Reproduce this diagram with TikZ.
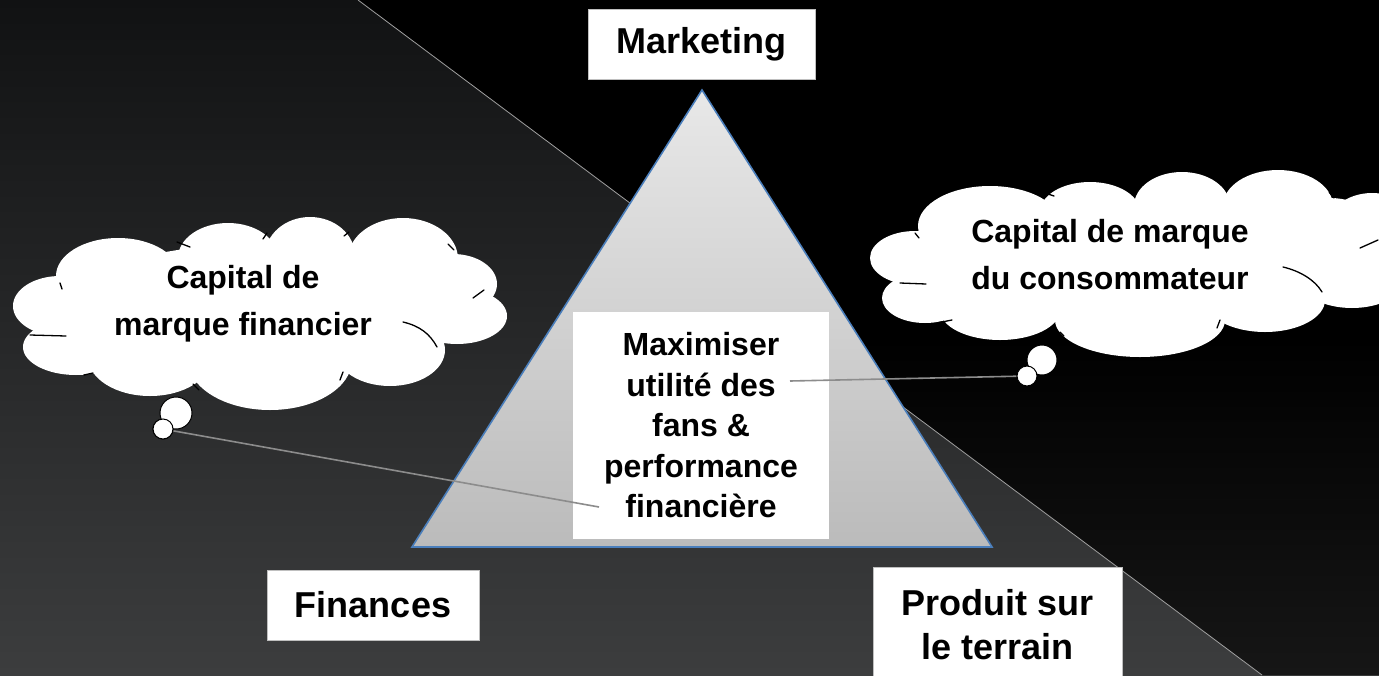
\documentclass[tikz,border=0pt]{standalone}
\usepackage{fontspec}
\setmainfont{Liberation Sans}
\definecolor{bgtop}{HTML}{111213}
\definecolor{bgbot}{HTML}{3C3D3E}
\definecolor{rbot}{HTML}{2C2C2C}
\definecolor{trtop}{HTML}{E8E8E8}
\definecolor{trbot}{HTML}{BBBBBB}
\definecolor{trline}{HTML}{4A7EBB}
\definecolor{connc}{HTML}{8C8C8C}
\definecolor{boxline}{HTML}{BFBFBF}
\pgfdeclareverticalshading{rightbg}{100bp}{color(0bp)=(rbot); color(50bp)=(black); color(100bp)=(black)}
\tikzset{
  lblbox/.style={fill=white, draw=boxline, line width=1pt, inner sep=0pt, align=center,
    font=\fontsize{36}{44}\selectfont\bfseries},
  goalbox/.style={fill=white, inner sep=0pt, align=center,
    font=\fontsize{32}{40.5}\selectfont\bfseries},
  cloudtext/.style={align=center, inner sep=0pt, font=\fontsize{32}{47}\selectfont\bfseries},
  puff/.style={circle, fill=white, draw=black, line width=1pt, inner sep=0pt},
  tick/.style={draw=black, line width=1.3pt, line cap=round},
  conn/.style={draw=connc, line width=1.6pt},
}
\newcommand\lobe[4]{\fill[white] (#1,#2) ellipse [x radius=#3, y radius=#4];}
\begin{document}
\begin{tikzpicture}[x=1pt,y=-1pt]
\useasboundingbox (0,0) rectangle (1379,675);
\clip (0,0) rectangle (1379,675);
% background
\shade[top color=bgtop, bottom color=bgbot] (0,0) rectangle (1379,675);
\shade[shading=rightbg] (358,0) -- (1379,0) -- (1379,675) -- (1262,675) -- cycle;
\draw[color=gray!75, line width=0.8pt] (358,0) -- (1262,675);
% triangle
\shade[top color=trtop, bottom color=trbot] (702,90) -- (992,547) -- (412,547) -- cycle;
\draw[trline, line width=1.6pt, line join=miter] (702,90) -- (992,547) -- (412,547) -- cycle;
% central box
\node[goalbox, minimum width=256pt, minimum height=227pt] (goal) at (701,425.5)
  {Maximiser\\utilité des\\fans \&\\performance\\financière};
\coordinate (gL) at (599,507);
\coordinate (gR) at (790,381);
% label boxes
\node[lblbox, minimum width=227pt, minimum height=70pt] (mkt) at (701.5,44) {Marketing};
\node[lblbox, minimum width=212pt, minimum height=70pt] (fin) at (373,605) {Finances};
\node[lblbox, minimum width=249pt, minimum height=116pt] (prod) at (997.5,625) {Produit sur\\le terrain};
% left cloud
\lobe{260}{312}{200}{68}
\lobe{118}{276}{62}{38}
\lobe{228}{258}{50}{35}
\lobe{310}{256}{45}{39}
\lobe{403}{259}{55}{41}
\lobe{453}{284}{44}{30}
\lobe{457}{316}{50}{28}
\lobe{390}{350}{55}{36}
\lobe{270}{360}{82}{50}
\lobe{150}{357}{62}{39}
\lobe{76}{347}{53}{28}
\lobe{60}{306}{47}{30}
\draw[tick] (177,242) -- (190,247);
\draw[tick] (267,233) -- (263,239);
\draw[tick] (349,232) -- (344,236);
\draw[tick] (448,244) -- (454,250);
\draw[tick] (484,290) -- (473,298);
\draw[tick] (403,322) .. controls (420,326) and (430,334) .. (437,347);
\draw[tick] (60,283) -- (62,289);
\draw[tick] (30,335) -- (66,336);
\draw[tick] (84,375) -- (93,373);
\draw[tick] (193,384) -- (199,390);
\draw[tick] (343,372) -- (340,380);
\node[cloudtext] (tL) at (243,303.5) {Capital de\\marque financier};
% right cloud
\lobe{1130}{262}{210}{62}
\lobe{990}{226}{72}{40}
\lobe{1090}{212}{50}{30}
\lobe{1182}{206}{48}{34}
\lobe{1278}{206}{55}{36}
\lobe{1330}{240}{55}{42}
\lobe{1372}{228}{45}{35}
\lobe{1352}{280}{52}{28}
\lobe{1265}{300}{60}{32}
\lobe{1140}{320}{85}{37}
\lobe{1000}{310}{60}{30}
\lobe{925}{298}{43}{25}
\lobe{915}{258}{45}{27}
\draw[tick] (1042,192) -- (1054,196);
\draw[tick] (1140,185) -- (1136,190);
\draw[tick] (1228,180) -- (1221,185);
\draw[tick] (1329,192) -- (1334,198);
\draw[tick] (1378,240) -- (1360,248);
\draw[tick] (1283,267) .. controls (1300,271) and (1315,280) .. (1322,292);
\draw[tick] (915,233) -- (919,238);
\draw[tick] (900,283) -- (926,284);
\draw[tick] (937,323) -- (952,320);
\draw[tick] (1060,332) -- (1064,336);
\draw[tick] (1220,320) -- (1217,328);
\node[cloudtext] (tR) at (1110,255) {Capital de marque\\du consommateur};
% connectors
\node[puff, minimum size=20pt] (bL2) at (163,429) {};
\node[puff, minimum size=20pt] (bR2) at (1027,376) {};
\draw[conn] (bL2) -- (gL);
\draw[conn] (bR2) -- (gR);
% thought bubbles
\node[puff, minimum size=32pt] (bL1) at (176,413) {};
\node[puff, minimum size=30pt] (bR1) at (1042,360) {};
\node[puff, minimum size=20pt] at (bL2) {};
\node[puff, minimum size=20pt] at (bR2) {};
\end{tikzpicture}
\end{document}
